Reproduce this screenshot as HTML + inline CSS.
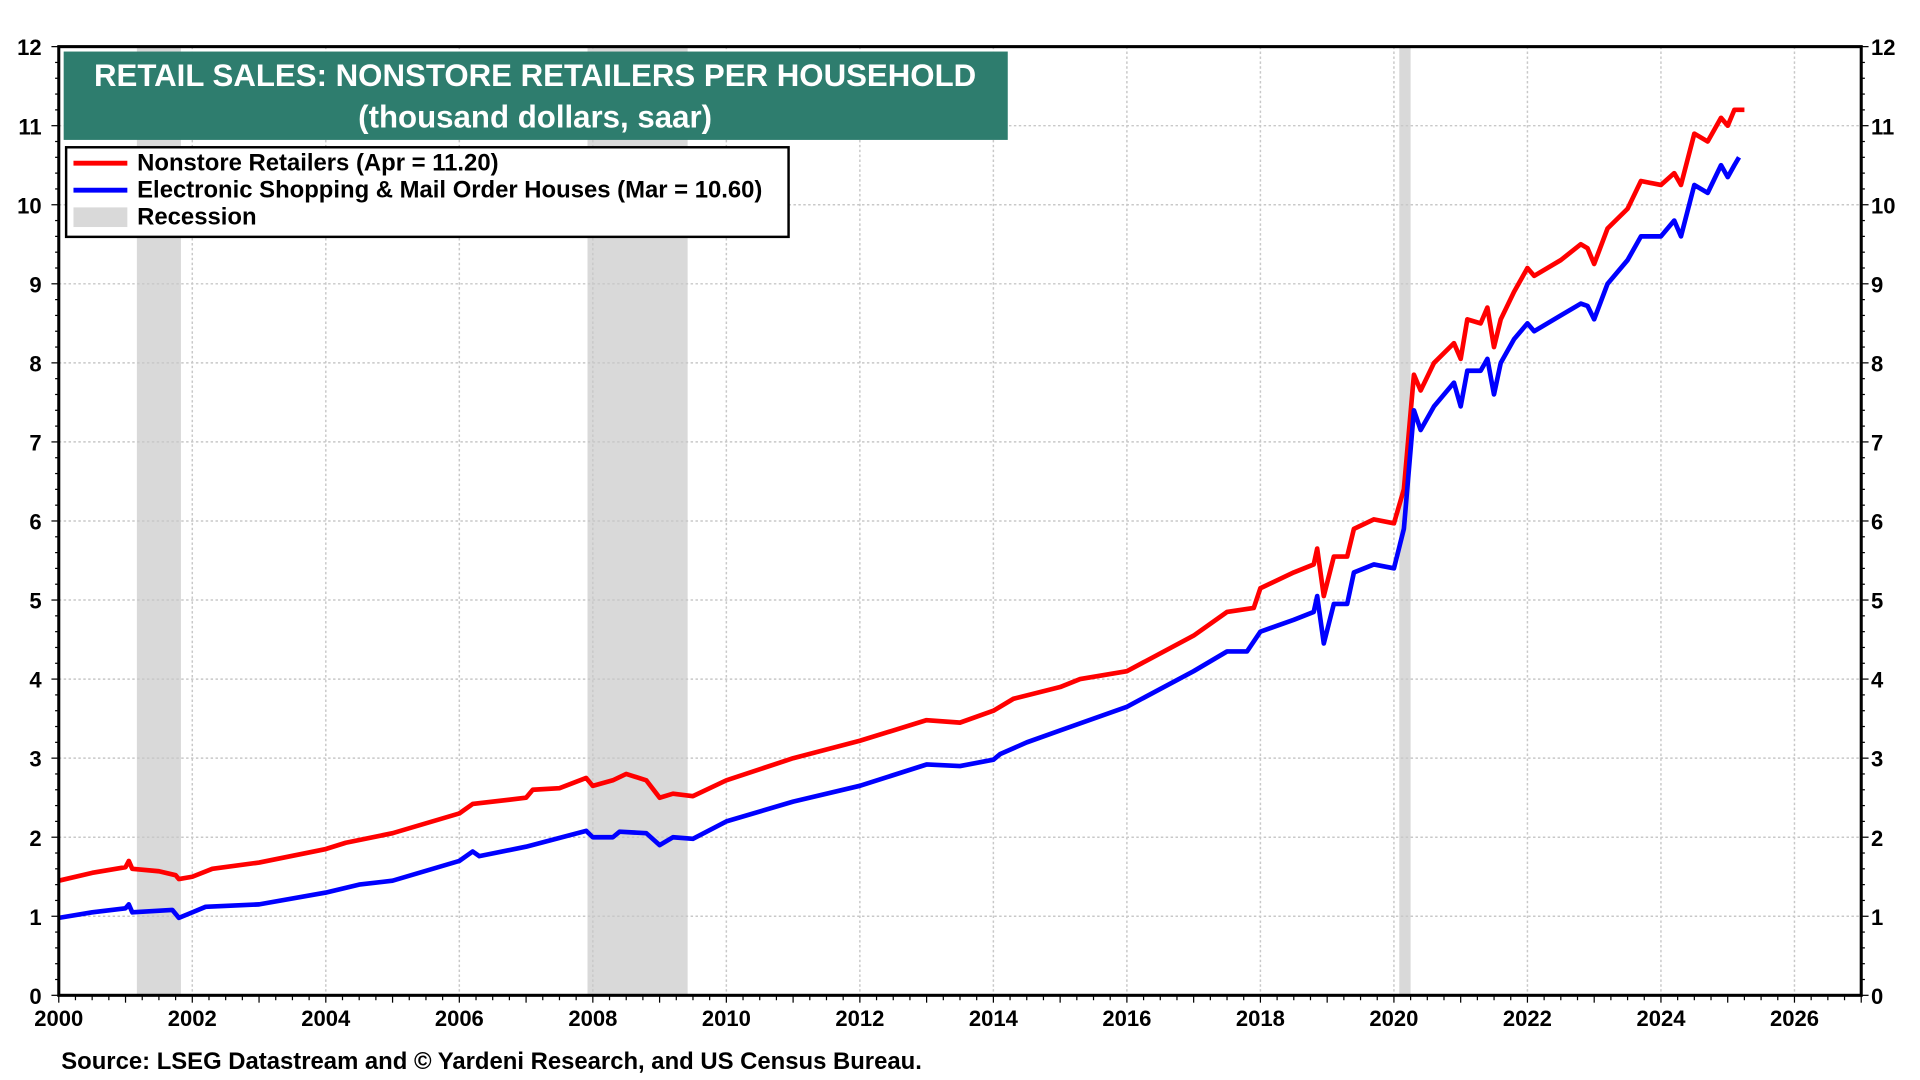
<!DOCTYPE html>
<html><head><meta charset="utf-8"><style>
html,body{margin:0;padding:0;background:#fff;overflow:hidden}
svg{display:block;width:100vw;height:100vh}
text{font-family:"Liberation Sans",Arial,sans-serif}
</style></head><body>
<svg id="chart" viewBox="0 0 1568 880" preserveAspectRatio="none" xmlns="http://www.w3.org/2000/svg"></svg>
<script>
const redDates=[2000,2000.5,2001,2001.05,2001.1,2001.5,2001.75,2001.8,2002,2002.3,2003,2004,2004.3,2005,2006,2006.2,2007,2007.1,2007.5,2007.9,2008,2008.3,2008.5,2008.8,2009,2009.2,2009.5,2010,2011,2012,2013,2013.5,2014,2014.3,2015,2015.3,2016,2017,2017.5,2017.9,2018,2018.5,2018.8,2018.85,2018.95,2019.1,2019.3,2019.4,2019.7,2020,2020.15,2020.3,2020.4,2020.6,2020.9,2021,2021.1,2021.3,2021.4,2021.5,2021.6,2021.8,2022,2022.1,2022.5,2022.8,2022.9,2023,2023.2,2023.5,2023.7,2024,2024.2,2024.3,2024.5,2024.7,2024.9,2025,2025.1,2025.25];
const redValues=[1.45,1.55,1.62,1.7,1.6,1.57,1.52,1.47,1.5,1.6,1.68,1.85,1.93,2.05,2.3,2.42,2.5,2.6,2.62,2.75,2.65,2.72,2.8,2.72,2.5,2.55,2.52,2.72,3.0,3.22,3.48,3.45,3.6,3.75,3.9,4.0,4.1,4.55,4.85,4.9,5.15,5.35,5.45,5.65,5.05,5.55,5.55,5.9,6.02,5.97,6.4,7.85,7.65,8.0,8.25,8.05,8.55,8.5,8.7,8.2,8.55,8.9,9.2,9.1,9.3,9.5,9.45,9.25,9.7,9.95,10.3,10.25,10.4,10.25,10.9,10.8,11.1,11.0,11.2,11.2];
const blueDates=[2000,2000.5,2001,2001.05,2001.1,2001.7,2001.8,2002,2002.2,2003,2004,2004.5,2005,2006,2006.2,2006.3,2007,2007.9,2008,2008.3,2008.4,2008.8,2009,2009.2,2009.5,2010,2011,2012,2013,2013.5,2014,2014.1,2014.5,2015,2016,2017,2017.5,2017.8,2018,2018.5,2018.8,2018.85,2018.95,2019.1,2019.3,2019.4,2019.7,2020,2020.15,2020.3,2020.4,2020.6,2020.9,2021,2021.1,2021.3,2021.4,2021.5,2021.6,2021.8,2022,2022.1,2022.5,2022.8,2022.9,2023,2023.2,2023.5,2023.7,2024,2024.2,2024.3,2024.5,2024.7,2024.9,2025,2025.1,2025.17];
const blueValues=[0.98,1.05,1.1,1.15,1.05,1.08,0.98,1.05,1.12,1.15,1.3,1.4,1.45,1.7,1.82,1.76,1.88,2.08,2.0,2.0,2.07,2.05,1.9,2.0,1.98,2.2,2.45,2.65,2.92,2.9,2.98,3.05,3.2,3.35,3.65,4.1,4.35,4.35,4.6,4.75,4.85,5.05,4.45,4.95,4.95,5.35,5.45,5.4,5.9,7.4,7.15,7.45,7.75,7.45,7.9,7.9,8.05,7.6,8.0,8.3,8.5,8.4,8.6,8.75,8.72,8.55,9.0,9.3,9.6,9.6,9.8,9.6,10.25,10.15,10.5,10.35,10.5,10.6];
const recStart=[2001.17,2007.92,2020.08];
const recEnd=[2001.83,2009.42,2020.25];
const yTicks=[0,1,2,3,4,5,6,7,8,9,10,11,12];
const xTicks=[2000,2002,2004,2006,2008,2010,2012,2014,2016,2018,2020,2022,2024,2026];

const L=48,R=1520,T=38,B=811,X0=2000,X1=2027,Y1=12;
const xs=v=>L+(v-X0)/(X1-X0)*(R-L);
const ys=v=>B-v/Y1*(B-T);
const svg=document.getElementById('chart');
const NS='http://www.w3.org/2000/svg';
function mk(tag,attrs,parent){const e=document.createElementNS(NS,tag);for(const k in attrs)e.setAttribute(k,attrs[k]);(parent||svg).appendChild(e);return e;}

recStart.forEach((s,i)=>{
  const r=mk('rect',{x:xs(s),y:T,width:xs(recEnd[i])-xs(s),height:B-T,fill:'#d9d9d9'});
  
  
});
yTicks.forEach(v=>{
  if(v>0&&v<12){const g=mk('line',{x1:L,x2:R,y1:ys(v),y2:ys(v),stroke:'#c8c8c8','stroke-width':1.2,'stroke-dasharray':'2,2'});
  
  }
  const t1=mk('text',{x:L-14,y:ys(v)+7,'text-anchor':'end','font-size':18,'font-weight':'bold'});t1.textContent=v;
  
  
  const t2=mk('text',{x:R+8,y:ys(v)+7,'font-size':18,'font-weight':'bold'});t2.textContent=v;
  
  
});
for(let v=0;v<=12;v+=0.2){
  const w=Math.abs(v-Math.round(v))<0.01?6:3;
  mk('line',{x1:L-w,x2:L,y1:ys(v),y2:ys(v),stroke:'#000','stroke-width':1});
  mk('line',{x1:R,x2:R+w,y1:ys(v),y2:ys(v),stroke:'#000','stroke-width':1});
}
xTicks.forEach(v=>{
  if(v>2000){const g=mk('line',{x1:xs(v),x2:xs(v),y1:T,y2:B,stroke:'#c8c8c8','stroke-width':1.2,'stroke-dasharray':'2,2'});
  
  }
  const t=mk('text',{x:xs(v),y:B+25,'text-anchor':'middle','font-size':18,'font-weight':'bold'});t.textContent=v;
  
  
});
for(let m=0;m<=27*4;m++){const x=xs(2000+m/4);mk('line',{x1:x,x2:x,y1:B,y2:B+(m%4==0?6:4),stroke:'#000','stroke-width':1});}

function line(d,v,color,name){
  const p=d.map((t,i)=>(i?'L':'M')+xs(t).toFixed(1)+','+ys(v[i]).toFixed(1)).join('');
  const e=mk('path',{d:p,fill:'none',stroke:color,'stroke-width':3.8,'stroke-linejoin':'round'});
  
  
}
line(redDates,redValues,'#ff0000','nonstore-retailers-line');
line(blueDates,blueValues,'#0000ff','electronic-shopping-line');

const frame=mk('rect',{x:L,y:T,width:R-L,height:B-T,fill:'none',stroke:'#000','stroke-width':2.5});



const tb=mk('rect',{x:52,y:42,width:771,height:72,fill:'#2e7d6e'});


const t1=mk('text',{x:437,y:70,'text-anchor':'middle','font-size':25.5,'font-weight':'bold',fill:'#fff'});t1.textContent='RETAIL SALES: NONSTORE RETAILERS PER HOUSEHOLD';


const t2=mk('text',{x:437,y:104,'text-anchor':'middle','font-size':25.5,'font-weight':'bold',fill:'#fff'});t2.textContent='(thousand dollars, saar)';



const lg=mk('rect',{x:54,y:120,width:590,height:73,fill:'#fff',stroke:'#000','stroke-width':2});


const items=[['#ff0000','Nonstore Retailers (Apr = 11.20)','line'],['#0000ff','Electronic Shopping & Mail Order Houses (Mar = 10.60)','line'],['#d9d9d9','Recession','box']];
items.forEach((it,i)=>{
  const y=133+i*22;
  if(it[2]=='line')mk('line',{x1:60,x2:104,y1:y,y2:y,stroke:it[0],'stroke-width':4});
  else mk('rect',{x:60,y:y-8,width:44,height:16,fill:it[0]});
  const t=mk('text',{x:112,y:y+6,'font-size':19.5,'font-weight':'bold'});t.textContent=it[1];
  
  
});
const src=mk('text',{x:50,y:871,'font-size':19.5,'font-weight':'bold'});src.textContent='Source: LSEG Datastream and © Yardeni Research, and US Census Bureau.';


</script>
</body></html>
